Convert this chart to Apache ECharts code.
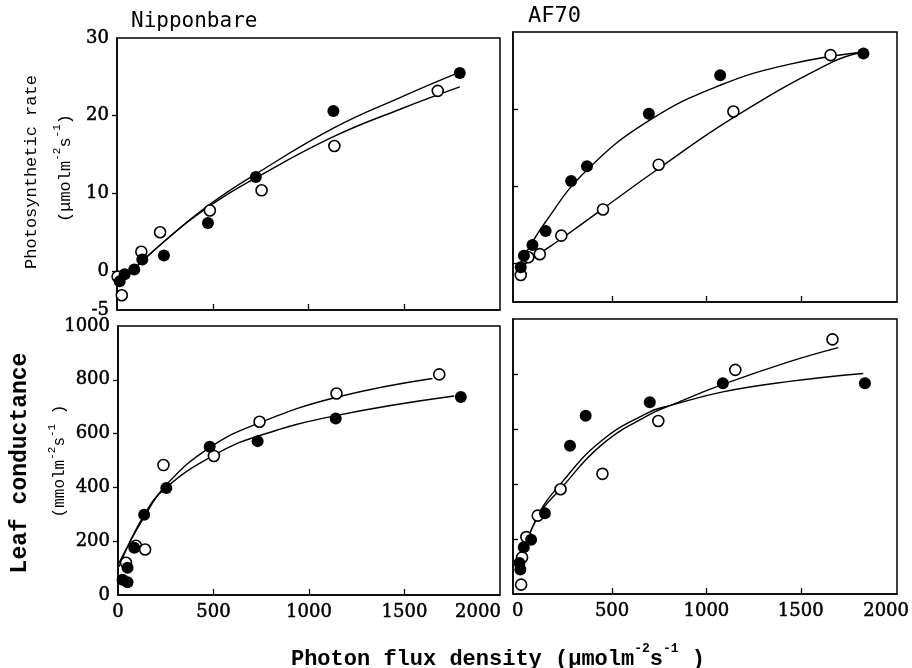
<!DOCTYPE html>
<html>
<head>
<meta charset="utf-8">
<script src="https://cdn.jsdelivr.net/npm/echarts@6/dist/echarts.min.js"></script>
<style>
  html, body { margin: 0; padding: 0; background: #fff; }
  #chart { width: 912px; height: 668px; }
</style>
</head>
<body>
<div id="chart"></div>
<script>
// tick values
var xTicks = [0, 500, 1000, 1500, 2000];
var xInnerTicks = [500, 1000, 1500];
var psLabels = [-5, 0, 10, 20, 30];
var psTicks = [0, 10, 20];
var gsLabels = [0, 200, 400, 600, 800, 1000];
var gsTicks = [200, 400, 600, 800];

// Nipponbare, photosynthetic rate  [PFD, rate]
var nipPsFilled = [[14, -1.3], [40, -0.4], [90, 0.2], [132, 1.5], [245, 2.0], [475, 6.2], [725, 12.1], [1130, 20.6], [1790, 25.5]];
var nipPsOpen = [[3, -0.7], [25, -3.1], [127, 2.5], [225, 5.0], [485, 7.8], [755, 10.4], [1135, 16.1], [1675, 23.2]];
var nipPsFilledFit = [[0, -1.8], [255, 4.0], [485, 8.6], [725, 12.5], [1130, 18.4], [1475, 22.3], [1790, 25.6]];
var nipPsOpenFit = [[0, -1.8], [255, 4.0], [485, 8.4], [725, 12.0], [1130, 17.3], [1475, 20.8], [1790, 23.7]];

// AF70, photosynthetic rate
var afPsFilled = [[16, -0.5], [33, 1.0], [78, 2.4], [148, 4.2], [283, 10.7], [367, 12.6], [695, 19.4], [1073, 24.4], [1832, 27.2]];
var afPsOpen = [[16, -1.5], [56, 0.8], [117, 1.2], [231, 3.6], [452, 7.0], [747, 12.8], [1143, 19.7], [1658, 27.0]];
var afPsFilledFit = [[0, -0.6], [148, 5.4], [367, 12.1], [695, 18.5], [1073, 23.1], [1437, 25.8], [1832, 27.4]];
var afPsOpenFit = [[0, -0.8], [117, 1.3], [231, 3.2], [452, 7.1], [747, 12.3], [1143, 18.9], [1658, 26.0], [1830, 27.4]];

// Nipponbare, leaf conductance
var nipGsFilled = [[24, 57], [50, 47], [50, 101], [85, 176], [137, 298], [253, 398], [480, 551], [731, 572], [1140, 656], [1795, 736]];
var nipGsOpen = [[42, 120], [94, 183], [142, 169], [238, 483], [502, 517], [741, 644], [1144, 749], [1682, 820]];
var nipGsFilledFit = [[5, 105], [137, 298], [253, 400], [502, 520], [730, 590], [1140, 667], [1760, 740]];
var nipGsOpenFit = [[5, 119], [137, 290], [253, 410], [480, 548], [741, 640], [1144, 735], [1646, 805]];

// AF70, leaf conductance
var afGsFilled = [[9, 113], [14, 89], [32, 170], [71, 197], [144, 294], [277, 539], [360, 648], [700, 697], [1087, 766], [1840, 766]];
var afGsOpen = [[18, 34], [23, 133], [46, 207], [106, 285], [227, 381], [449, 437], [745, 629], [1153, 815], [1668, 926]];
var afGsFilledFit = [[0, 95], [106, 283], [227, 400], [449, 560], [700, 662], [806, 685], [1087, 735], [1440, 773], [1831, 802]];
var afGsOpenFit = [[0, 100], [106, 280], [227, 382], [449, 545], [700, 653], [806, 685], [1087, 762], [1440, 845], [1699, 896]];

var SERIF = 'DejaVu Serif';
var MONO = 'Liberation Mono';

var grids = [
    {left: 117, top: 38, width: 383, height: 272},
    {left: 513, top: 32, width: 384, height: 270},
    {left: 118, top: 326, width: 382, height: 269},
    {left: 513, top: 319, width: 384, height: 275}
];

function tickLabel(show, values) {
    return {
        show: show,
        customValues: values,
        color: '#000',
        fontFamily: SERIF,
        fontSize: 18,
        textBorderColor: '#000',
        textBorderWidth: 0.5,
        margin: 8,
        formatter: function (v) { return String(v); }
    };
}

function xAxis(gi, showLabels, xmin) {
    var label = tickLabel(showLabels, xTicks);
    label.formatter = function (v) {
        return v === 2000 ? '{m|2000}' : String(v);
    };
    label.rich = {m: {fontFamily: SERIF, fontSize: 18, color: '#000', textBorderColor: '#000', textBorderWidth: 0.5,
        padding: gi === 2 ? [0, 44, 0, 0] : [0, 18, 0, 0]}};
    return {
        type: 'value', gridIndex: gi, min: xmin, max: xmin < 0 ? 2010 : 2000,
        axisLine: {show: true, onZero: false, lineStyle: {color: '#000', width: 1.5}},
        axisTick: {show: true, inside: true, length: 6, customValues: xInnerTicks, lineStyle: {color: '#000', width: 1.3}},
        axisLabel: label,
        splitLine: {show: false}
    };
}

function yAxis(gi, min, max, labels, ticks, left) {
    return {
        type: 'value', gridIndex: gi, min: min, max: max,
        axisLine: {show: true, onZero: false, lineStyle: {color: '#000', width: 1.5}},
        axisTick: {show: true, inside: !left, length: 5, customValues: ticks, lineStyle: {color: '#000', width: 1.3}},
        axisLabel: tickLabel(left, labels),
        splitLine: {show: false}
    };
}

function pts(data, gi, filled) {
    return {
        type: 'scatter', xAxisIndex: gi, yAxisIndex: gi, data: data,
        symbol: 'circle', symbolSize: filled ? 12 : 11, z: filled ? 4 : 3,
        itemStyle: filled ? {color: '#000', opacity: 1} : {color: '#fff', borderColor: '#000', borderWidth: 1.6, opacity: 1}
    };
}

function fit(data, gi) {
    return {
        type: 'line', xAxisIndex: gi, yAxisIndex: gi, data: data,
        smooth: 0.45, symbol: 'none', z: 2,
        lineStyle: {color: '#000', width: 1.4}
    };
}

// text pieces for the unit lines: base tokens plus raised exponents
function unitRich(size, weight, lh, supSize) {
    return {
        t: {fontFamily: MONO, fontSize: size, fontWeight: weight, lineHeight: lh, verticalAlign: 'bottom', color: '#000'},
        s: {fontFamily: MONO, fontSize: supSize, fontWeight: weight, lineHeight: lh, verticalAlign: 'top', color: '#000'}
    };
}

function vText(x, y, text, style) {
    return {type: 'text', x: x, y: y, rotation: Math.PI / 2,
        style: Object.assign({text: text, align: 'center', verticalAlign: 'middle', fill: '#000'}, style)};
}

var option = {
    animation: false,
    backgroundColor: '#fff',
    grid: grids.map(function (g) {
        return Object.assign({show: true, borderColor: '#000', borderWidth: 1.5, outerBoundsMode: 'none'}, g);
    }),
    xAxis: [xAxis(0, false, 0), xAxis(1, false, -25), xAxis(2, true, 0), xAxis(3, true, -25)],
    yAxis: [
        yAxis(0, -5, 30, psLabels, psTicks, true),
        yAxis(1, -5, 30, psLabels, psTicks, false),
        yAxis(2, 0, 1000, gsLabels, gsTicks, true),
        yAxis(3, 0, 1000, gsLabels, gsTicks, false)
    ],
    series: [
        fit(nipPsFilledFit, 0), fit(nipPsOpenFit, 0), pts(nipPsOpen, 0, false), pts(nipPsFilled, 0, true),
        fit(afPsFilledFit, 1), fit(afPsOpenFit, 1), pts(afPsOpen, 1, false), pts(afPsFilled, 1, true),
        fit(nipGsFilledFit, 2), fit(nipGsOpenFit, 2), pts(nipGsOpen, 2, false), pts(nipGsFilled, 2, true),
        fit(afGsFilledFit, 3), fit(afGsOpenFit, 3), pts(afGsOpen, 3, false), pts(afGsFilled, 3, true)
    ],
    graphic: [
        {type: 'text', x: 131, y: 22, style: {text: 'Nipponbare', fontFamily: 'DejaVu Sans Mono', fontSize: 21, fill: '#000', align: 'left', verticalAlign: 'middle'}},
        {type: 'text', x: 528, y: 16, style: {text: 'AF70', fontFamily: 'DejaVu Sans Mono', fontSize: 22, fill: '#000', align: 'left', verticalAlign: 'middle'}},
        vText(31, 172, 'Photosynthetic rate', {fontFamily: MONO, fontSize: 17}),
        vText(63, 168, '{t|(μmolm}{s|-2}{t|s}{s|-1}{t|)}', {rich: unitRich(17, 'normal', 22, 11)}),
        vText(20, 463, 'Leaf conductance', {fontFamily: MONO, fontSize: 23, fontWeight: 'bold'}),
        vText(57, 461, '{t|(mmolm}{s|-2}{t|s}{s|-1}{t| )}', {rich: unitRich(16, 'normal', 21, 11)}),
        {
            type: 'text', x: 498, y: 656,
            style: {
                text: '{t|Photon flux density (μmolm}{s|-2}{t|s}{s|-1}{t| )}',
                align: 'center', verticalAlign: 'middle', fill: '#000',
                rich: unitRich(22, 'bold', 28, 13)
            }
        }
    ]
};

echarts.init(document.getElementById('chart')).setOption(option);
</script>
</body>
</html>
